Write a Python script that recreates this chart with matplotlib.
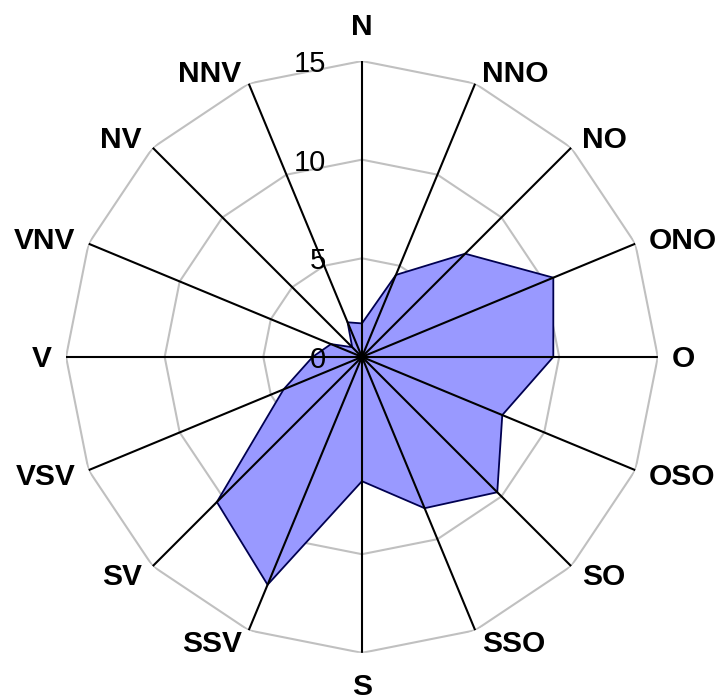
import numpy as np
import matplotlib.pyplot as plt

# wind directions (Romanian), clockwise from north
directions = ['N', 'NNO', 'NO', 'ONO', 'O', 'OSO', 'SO', 'SSO',
              'S', 'SSV', 'SV', 'VSV', 'V', 'VNV', 'NV', 'NNV']
values = [1.7, 4.5, 7.4, 10.5, 9.7, 7.7, 9.7, 8.3,
          6.3, 12.5, 10.4, 4.3, 2.5, 1.7, 0.7, 1.9]
ring_values = [0, 5, 10, 15]
r_max = 15

n = len(directions)
theta = np.arange(n) * 2 * np.pi / n
theta_closed = np.append(theta, theta[0])

fig = plt.figure(figsize=(7.2, 7.0), dpi=100)
ax = fig.add_axes([0.0917, 0.0671, 0.822, 0.846], projection='polar')
ax.set_theta_zero_location('N')
ax.set_theta_direction(-1)
ax.set_ylim(0, r_max)
ax.grid(False)
ax.set_xticks([])
ax.set_yticks([])
ax.spines['polar'].set_visible(False)
ax.patch.set_alpha(0)

# polygon gridlines
for rv in ring_values[1:]:
    ax.plot(theta_closed, [rv] * (n + 1), color='#c0c0c0', lw=1.5, zorder=1)

# data polygon
vals_closed = values + values[:1]
ax.fill(theta_closed, vals_closed, facecolor='#9999ff', edgecolor='#000050',
        lw=1.3, zorder=2)

# spokes
for t in theta:
    ax.plot([t, t], [0, r_max], color='black', lw=1.5, zorder=3,
            solid_capstyle='butt')

# ring value labels
for rv in ring_values:
    ax.annotate(str(rv), xy=(0, rv), xytext=(-36, -3), textcoords='offset pixels',
                ha='right', va='center', fontsize=21, family='Liberation Sans',
                zorder=4, annotation_clip=False)

# direction labels, placed just outside the spoke ends
cap_half = 10
for t, lab in zip(theta, directions):
    s, c = np.sin(t), np.cos(t)
    if abs(s) < 0.1:
        dx, ha = 0, 'center'
        dy = 36 if c > 0 else -32
    else:
        dx = (3 + 11 * abs(s)) * np.sign(s)
        ha = 'left' if s > 0 else 'right'
        dy = 13 * c
    ax.annotate(lab, xy=(t, r_max), xytext=(dx, dy - cap_half),
                textcoords='offset pixels', ha=ha, va='baseline',
                fontsize=21.5, fontweight='bold', family='Liberation Sans',
                annotation_clip=False)

fig.savefig('out.png', dpi=100)
